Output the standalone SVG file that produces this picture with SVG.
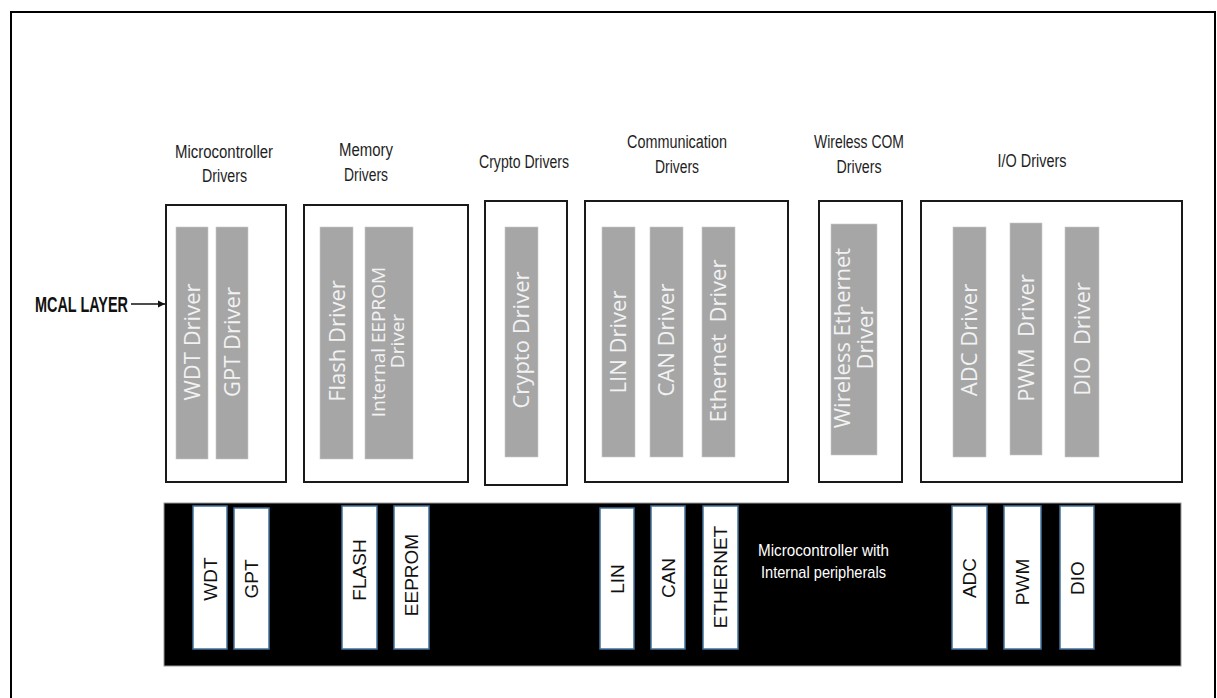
<svg xmlns="http://www.w3.org/2000/svg" width="1217" height="698" viewBox="0 0 1217 698">
<defs>
<style>
.grp{fill:#fff;stroke:#1a1a1a;stroke-width:2}
.bar{fill:#a6a6a6;stroke:#c8c8c8;stroke-width:0.6}
.per{fill:#fff;stroke:#41719c;stroke-width:1.5}
.ttl{font-family:"Liberation Sans Narrow","Liberation Sans",Arial,sans-serif;font-size:18px;fill:#1e1e1e;text-anchor:middle}
.gt{font-family:"Open Sans","Noto Sans",sans-serif;font-size:22px;fill:#f2f2f2;text-anchor:middle}
.gts{font-family:"Open Sans","Noto Sans",sans-serif;font-size:19px;fill:#f2f2f2;text-anchor:middle}
.pt{font-family:"Liberation Sans",Arial,sans-serif;font-size:19px;fill:#111;text-anchor:middle}
.wt{font-family:"Liberation Sans Narrow","Liberation Sans",Arial,sans-serif;font-size:17px;fill:#fff}
.lbl{font-family:"Liberation Sans Narrow","Liberation Sans",Arial,sans-serif;font-size:22px;font-weight:bold;fill:#111}
</style>
<marker id="ah" markerWidth="8" markerHeight="8" refX="7" refY="4" orient="auto" markerUnits="userSpaceOnUse">
<path d="M0,0.5 L7,4 L0,7.5 Z" fill="#111"/>
</marker>
</defs>
<rect width="1217" height="698" fill="#fff"/>
<path d="M11,698 V12 H1215 V698" fill="none" stroke="#000" stroke-width="2"/>

<g id="mcal-label">
<text class="lbl" x="35" y="312" textLength="93" lengthAdjust="spacingAndGlyphs">MCAL LAYER</text>
</g>

<g id="connectors">
<line x1="131" y1="304" x2="165" y2="304" stroke="#111" stroke-width="1.6" marker-end="url(#ah)"/>
</g>

<g id="microcontroller-drivers">
<text class="ttl" x="224" y="158" textLength="98" lengthAdjust="spacingAndGlyphs">Microcontroller</text>
<text class="ttl" x="224.5" y="182" textLength="45" lengthAdjust="spacingAndGlyphs">Drivers</text>
<rect class="grp" x="166" y="205" width="120" height="277"/>
<rect class="bar" x="176" y="227" width="32" height="232"/>
<rect class="bar" x="216" y="227" width="32" height="232"/>
<text class="gt" transform="translate(192,342) rotate(-90)" dy="0.36em">WDT Driver</text>
<text class="gt" transform="translate(232,342) rotate(-90)" dy="0.36em">GPT Driver</text>
</g>

<g id="memory-drivers">
<text class="ttl" x="366" y="156" textLength="54" lengthAdjust="spacingAndGlyphs">Memory</text>
<text class="ttl" x="366" y="181" textLength="44" lengthAdjust="spacingAndGlyphs">Drivers</text>
<rect class="grp" x="304" y="205" width="164" height="277"/>
<rect class="bar" x="320" y="227" width="33" height="232"/>
<rect class="bar" x="365" y="227" width="48" height="232"/>
<text class="gt" transform="translate(337,341) rotate(-90)" dy="0.36em">Flash Driver</text>
<text class="gts" transform="translate(378,342) rotate(-90)" dy="0.36em">Internal EEPROM</text>
<text class="gts" transform="translate(397,341) rotate(-90)" dy="0.36em">Driver</text>
</g>

<g id="crypto-drivers">
<text class="ttl" x="524" y="168" textLength="90" lengthAdjust="spacingAndGlyphs">Crypto Drivers</text>
<rect class="grp" x="485" y="201" width="82" height="284"/>
<rect class="bar" x="505" y="227" width="33" height="230"/>
<text class="gt" transform="translate(521,340) rotate(-90)" dy="0.36em">Crypto Driver</text>
</g>

<g id="communication-drivers">
<text class="ttl" x="677" y="148" textLength="100" lengthAdjust="spacingAndGlyphs">Communication</text>
<text class="ttl" x="677" y="173" textLength="44" lengthAdjust="spacingAndGlyphs">Drivers</text>
<rect class="grp" x="585" y="201" width="203" height="281"/>
<rect class="bar" x="602" y="227" width="33" height="230"/>
<rect class="bar" x="650" y="227" width="33" height="230"/>
<rect class="bar" x="702" y="227" width="33" height="230"/>
<text class="gt" transform="translate(618,342) rotate(-90)" dy="0.36em">LIN Driver</text>
<text class="gt" transform="translate(666,340) rotate(-90)" dy="0.36em">CAN Driver</text>
<text class="gt" transform="translate(718,341) rotate(-90)" dy="0.36em" xml:space="preserve">Ethernet  Driver</text>
</g>

<g id="wireless-com-drivers">
<text class="ttl" x="859" y="148" textLength="90" lengthAdjust="spacingAndGlyphs">Wireless COM</text>
<text class="ttl" x="859" y="173" textLength="45" lengthAdjust="spacingAndGlyphs">Drivers</text>
<rect class="grp" x="819" y="201" width="83" height="281"/>
<rect class="bar" x="831" y="224" width="46" height="231"/>
<text class="gt" transform="translate(842,338) rotate(-90)" dy="0.36em">Wireless Ethernet</text>
<text class="gt" transform="translate(865,338) rotate(-90)" dy="0.36em">Driver</text>
</g>

<g id="io-drivers">
<text class="ttl" x="1032" y="167" textLength="69" lengthAdjust="spacingAndGlyphs">I/O Drivers</text>
<rect class="grp" x="921" y="201" width="261" height="281"/>
<rect class="bar" x="953" y="227" width="33" height="230"/>
<rect class="bar" x="1010" y="223" width="32" height="232"/>
<rect class="bar" x="1065" y="227" width="34" height="230"/>
<text class="gt" transform="translate(969,340) rotate(-90)" dy="0.36em">ADC Driver</text>
<text class="gt" transform="translate(1026,338) rotate(-90)" dy="0.36em" xml:space="preserve">PWM  Driver</text>
<text class="gt" transform="translate(1082,339) rotate(-90)" dy="0.36em" xml:space="preserve">DIO  Driver</text>
</g>

<g id="microcontroller">
<rect x="164" y="503" width="1017" height="163" fill="#000" stroke="#9a9a9a" stroke-width="1"/>
<text class="wt" x="758" y="556" textLength="131" lengthAdjust="spacingAndGlyphs">Microcontroller with</text>
<text class="wt" x="761" y="578" textLength="125" lengthAdjust="spacingAndGlyphs">Internal peripherals</text>
</g>
<g id="p-wdt"><rect class="per" x="193" y="506" width="34" height="143"/><text class="pt" transform="translate(210,579) rotate(-90)" dy="0.35em">WDT</text></g>
<g id="p-gpt"><rect class="per" x="234" y="508" width="35" height="141"/><text class="pt" transform="translate(251.5,579) rotate(-90)" dy="0.35em">GPT</text></g>
<g id="p-flash"><rect class="per" x="342" y="506" width="35" height="143"/><text class="pt" transform="translate(359.5,570) rotate(-90)" dy="0.35em">FLASH</text></g>
<g id="p-eeprom"><rect class="per" x="394" y="506" width="35" height="143"/><text class="pt" transform="translate(411,575) rotate(-90)" dy="0.35em">EEPROM</text></g>
<g id="p-lin"><rect class="per" x="600" y="508" width="34" height="141"/><text class="pt" transform="translate(617,579) rotate(-90)" dy="0.35em">LIN</text></g>
<g id="p-can"><rect class="per" x="651" y="506" width="34" height="143"/><text class="pt" transform="translate(668,578) rotate(-90)" dy="0.35em">CAN</text></g>
<g id="p-ethernet"><rect class="per" x="703" y="506" width="35" height="143"/><text class="pt" transform="translate(720,577) rotate(-90)" dy="0.35em">ETHERNET</text></g>
<g id="p-adc"><rect class="per" x="952" y="506" width="35" height="143"/><text class="pt" transform="translate(969,578) rotate(-90)" dy="0.35em">ADC</text></g>
<g id="p-pwm"><rect class="per" x="1004" y="506" width="37" height="143"/><text class="pt" transform="translate(1022,582) rotate(-90)" dy="0.35em">PWM</text></g>
<g id="p-dio"><rect class="per" x="1060" y="506" width="34" height="143"/><text class="pt" transform="translate(1077,578) rotate(-90)" dy="0.35em">DIO</text></g>
</svg>
